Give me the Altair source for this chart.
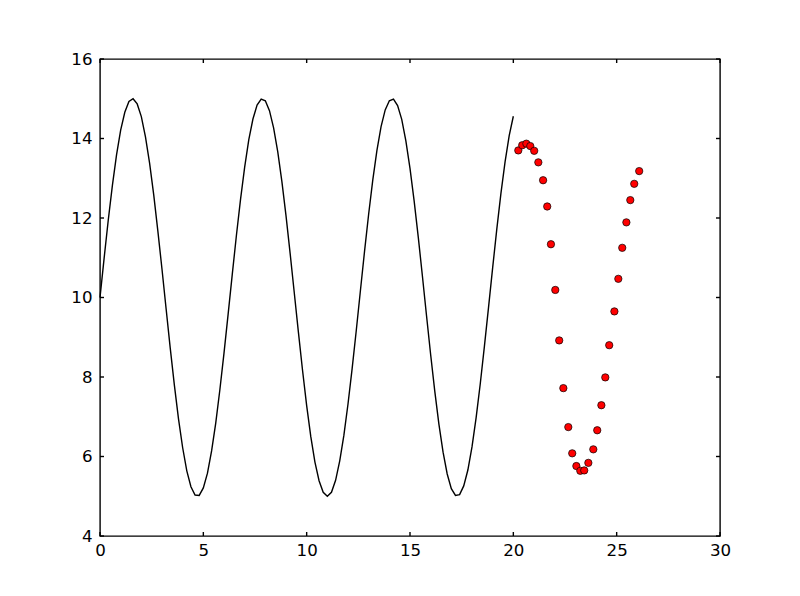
import altair as alt
import pandas as pd

# Black line series (x, y)
line_x = [0.0, 0.2, 0.4, 0.6, 0.8, 1.0, 1.2, 1.4, 1.6, 1.8,
          2.0, 2.2, 2.4, 2.6, 2.8, 3.0, 3.2, 3.4, 3.6, 3.8,
          4.0, 4.2, 4.4, 4.6, 4.8, 5.0, 5.2, 5.4, 5.6, 5.8,
          6.0, 6.2, 6.4, 6.6, 6.8, 7.0, 7.2, 7.4, 7.6, 7.8,
          8.0, 8.2, 8.4, 8.6, 8.8, 9.0, 9.2, 9.4, 9.6, 9.8,
          10.0, 10.2, 10.4, 10.6, 10.8, 11.0, 11.2, 11.4, 11.6, 11.8,
          12.0, 12.2, 12.4, 12.6, 12.8, 13.0, 13.2, 13.4, 13.6, 13.8,
          14.0, 14.2, 14.4, 14.6, 14.8, 15.0, 15.2, 15.4, 15.6, 15.8,
          16.0, 16.2, 16.4, 16.6, 16.8, 17.0, 17.2, 17.4, 17.6, 17.8,
          18.0, 18.2, 18.4, 18.6, 18.8, 19.0, 19.2, 19.4, 19.6, 19.8,
          20.0]
line_y = [10.00, 10.99, 11.95, 12.82, 13.59, 14.21, 14.66, 14.93, 15.00, 14.87,
          14.55, 14.04, 13.38, 12.58, 11.67, 10.71, 9.71, 8.72, 7.79, 6.94,
          6.22, 5.64, 5.24, 5.03, 5.02, 5.21, 5.58, 6.14, 6.84, 7.68,
          8.60, 9.58, 10.58, 11.56, 12.47, 13.28, 13.97, 14.49, 14.84, 14.99,
          14.95, 14.70, 14.27, 13.67, 12.92, 12.06, 11.11, 10.12, 9.13, 8.17,
          7.28, 6.50, 5.86, 5.39, 5.10, 5.00, 5.10, 5.40, 5.89, 6.53,
          7.32, 8.21, 9.17, 10.17, 11.16, 12.10, 12.96, 13.70, 14.30, 14.72,
          14.95, 14.99, 14.83, 14.48, 13.94, 13.25, 12.43, 11.52, 10.54, 9.54,
          8.56, 7.64, 6.81, 6.11, 5.56, 5.19, 5.02, 5.04, 5.26, 5.66,
          6.24, 6.98, 7.83, 8.77, 9.75, 10.75, 11.72, 12.62, 13.41, 14.07,
          14.56]

# Red dots series
dot_x = [20.24, 20.43, 20.63, 20.82, 21.01, 21.21, 21.44, 21.64, 21.82, 22.03,
         22.22, 22.42, 22.66, 22.85, 23.05, 23.24, 23.43, 23.63, 23.87, 24.06,
         24.26, 24.45, 24.64, 24.89, 25.08, 25.27, 25.47, 25.66, 25.85, 26.09]
dot_y = [13.70, 13.83, 13.87, 13.81, 13.69, 13.40, 12.95, 12.29, 11.34, 10.19,
         8.92, 7.72, 6.74, 6.08, 5.76, 5.64, 5.65, 5.84, 6.18, 6.66,
         7.29, 7.99, 8.80, 9.65, 10.47, 11.25, 11.89, 12.45, 12.86, 13.18]

# Axis ticks
x_ticks = [0, 5, 10, 15, 20, 25, 30]
y_ticks = [4, 6, 8, 10, 12, 14, 16]

W, H = 620, 477
FONT = "DejaVu Sans"
FS = 16.67
LW = 1.4

line_df = pd.DataFrame({"x": line_x, "y": line_y})
dot_df = pd.DataFrame({"x": dot_x, "y": dot_y})
xt_df = pd.DataFrame({"x": x_ticks})
yt_df = pd.DataFrame({"y": y_ticks})

xscale = alt.Scale(domain=[0, 30], nice=False, zero=False)
yscale = alt.Scale(domain=[4, 16], nice=False, zero=False)

xaxis = alt.Axis(values=x_ticks, title=None, grid=False, domain=False, ticks=False,
                 labelFont=FONT, labelFontSize=FS, labelColor="black",
                 labelPadding=6, labelFlush=False, labelOverlap=False, format="d")
yaxis = alt.Axis(values=y_ticks, title=None, grid=False, domain=False, ticks=False,
                 labelFont=FONT, labelFontSize=FS, labelColor="black",
                 labelPadding=8, labelOverlap=False, labelFlush=False, format="d")

line = alt.Chart(line_df).mark_line(color="black", strokeWidth=LW).encode(
    x=alt.X("x:Q", scale=xscale, axis=xaxis),
    y=alt.Y("y:Q", scale=yscale, axis=yaxis),
)

dots = alt.Chart(dot_df).mark_point(
    shape="circle", filled=True, fill="red", stroke="black", strokeWidth=0.7,
    size=54, opacity=1
).encode(
    x=alt.X("x:Q", scale=xscale),
    y=alt.Y("y:Q", scale=yscale),
)

TL = 4
xt_bottom = alt.Chart(xt_df).mark_rule(color="black", strokeWidth=LW).encode(
    x=alt.X("x:Q", scale=xscale), y=alt.value(H - TL), y2=alt.value(H))
xt_top = alt.Chart(xt_df).mark_rule(color="black", strokeWidth=LW).encode(
    x=alt.X("x:Q", scale=xscale), y=alt.value(0), y2=alt.value(TL))
yt_left = alt.Chart(yt_df).mark_rule(color="black", strokeWidth=LW).encode(
    y=alt.Y("y:Q", scale=yscale), x=alt.value(0), x2=alt.value(TL))
yt_right = alt.Chart(yt_df).mark_rule(color="black", strokeWidth=LW).encode(
    y=alt.Y("y:Q", scale=yscale), x=alt.value(W - TL), x2=alt.value(W))

chart = alt.layer(line, xt_bottom, xt_top, yt_left, yt_right, dots).properties(
    width=W, height=H,
    autosize=alt.AutoSizeParams(type="none"),
    padding={"left": 92, "top": 51, "right": 72, "bottom": 52},
    background="white",
).configure_view(stroke="black", strokeWidth=LW)

chart.save("out.html", embed_options={"renderer": "svg", "actions": False})
